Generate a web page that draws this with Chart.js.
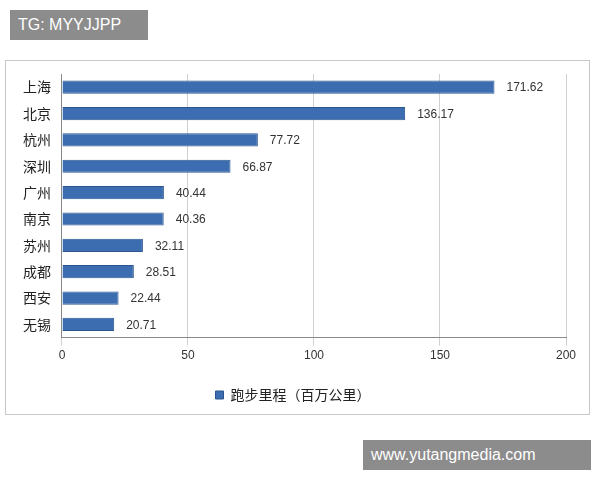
<!DOCTYPE html>
<html><head><meta charset="utf-8">
<script src="https://cdn.jsdelivr.net/npm/chart.js@4/dist/chart.umd.min.js"></script>
<style>
body{margin:0;width:600px;height:480px;background:#fff;position:relative;font-family:"Noto Sans CJK SC",sans-serif;overflow:hidden}
#frame{position:absolute;left:5px;top:60px;width:585px;height:355px;border:1px solid #c8c8c8;box-sizing:border-box}
#wrap{position:absolute;left:6px;top:62px;width:582px;height:350px}
.wm{position:absolute;background:#8c8c8c;color:#fff;font-family:"Liberation Sans",sans-serif;font-size:16px;padding:0 8px;line-height:30px}
</style></head><body>
<div class="wm" style="left:10px;top:10px;width:122px">TG: MYYJJPP</div>
<div class="wm" style="left:363px;top:440px;width:212px">www.yutangmedia.com</div>
<div id="frame"></div>
<div id="wrap"><canvas id="c"></canvas></div>
<script>
const categories=["上海","北京","杭州","深圳","广州","南京","苏州","成都","西安","无锡"];
const values=[171.62,136.17,77.72,66.87,40.44,40.36,32.11,28.51,22.44,20.71];
const seriesName="跑步里程（百万公里）";
const labelPlugin={id:"lbl",afterDatasetsDraw(ch){const c=ch.ctx;const m=ch.getDatasetMeta(0);c.save();c.font="12px 'Liberation Sans',sans-serif";c.fillStyle="#333";c.textBaseline="middle";
m.data.forEach((b,i)=>{c.fillText(values[i].toFixed(2),b.x+12,b.y+1);});c.restore();}};
new Chart(document.getElementById("c"),{type:"bar",
data:{labels:categories,datasets:[{label:seriesName,data:values,backgroundColor:"#3b6db0",borderColor:"#2c5590",borderWidth:1,barPercentage:0.5,categoryPercentage:1}]},
options:{indexAxis:"y",responsive:true,maintainAspectRatio:false,animation:false,
layout:{padding:{left:14,right:22,top:12,bottom:0}},
scales:{x:{min:0,max:200,ticks:{stepSize:50,color:"#333",font:{size:12,family:"Liberation Sans"}},grid:{color:"#d0d0d0"},border:{color:"#888"}},
y:{ticks:{color:"#222",font:{size:14,family:"Noto Sans CJK SC"}},grid:{display:false},border:{color:"#888"}}},
plugins:{legend:{position:"bottom",labels:{boxWidth:8,boxHeight:8,color:"#222",font:{size:14,family:"Noto Sans CJK SC"},padding:22}},tooltip:{enabled:false}}},
plugins:[labelPlugin]});
</script></body></html>
